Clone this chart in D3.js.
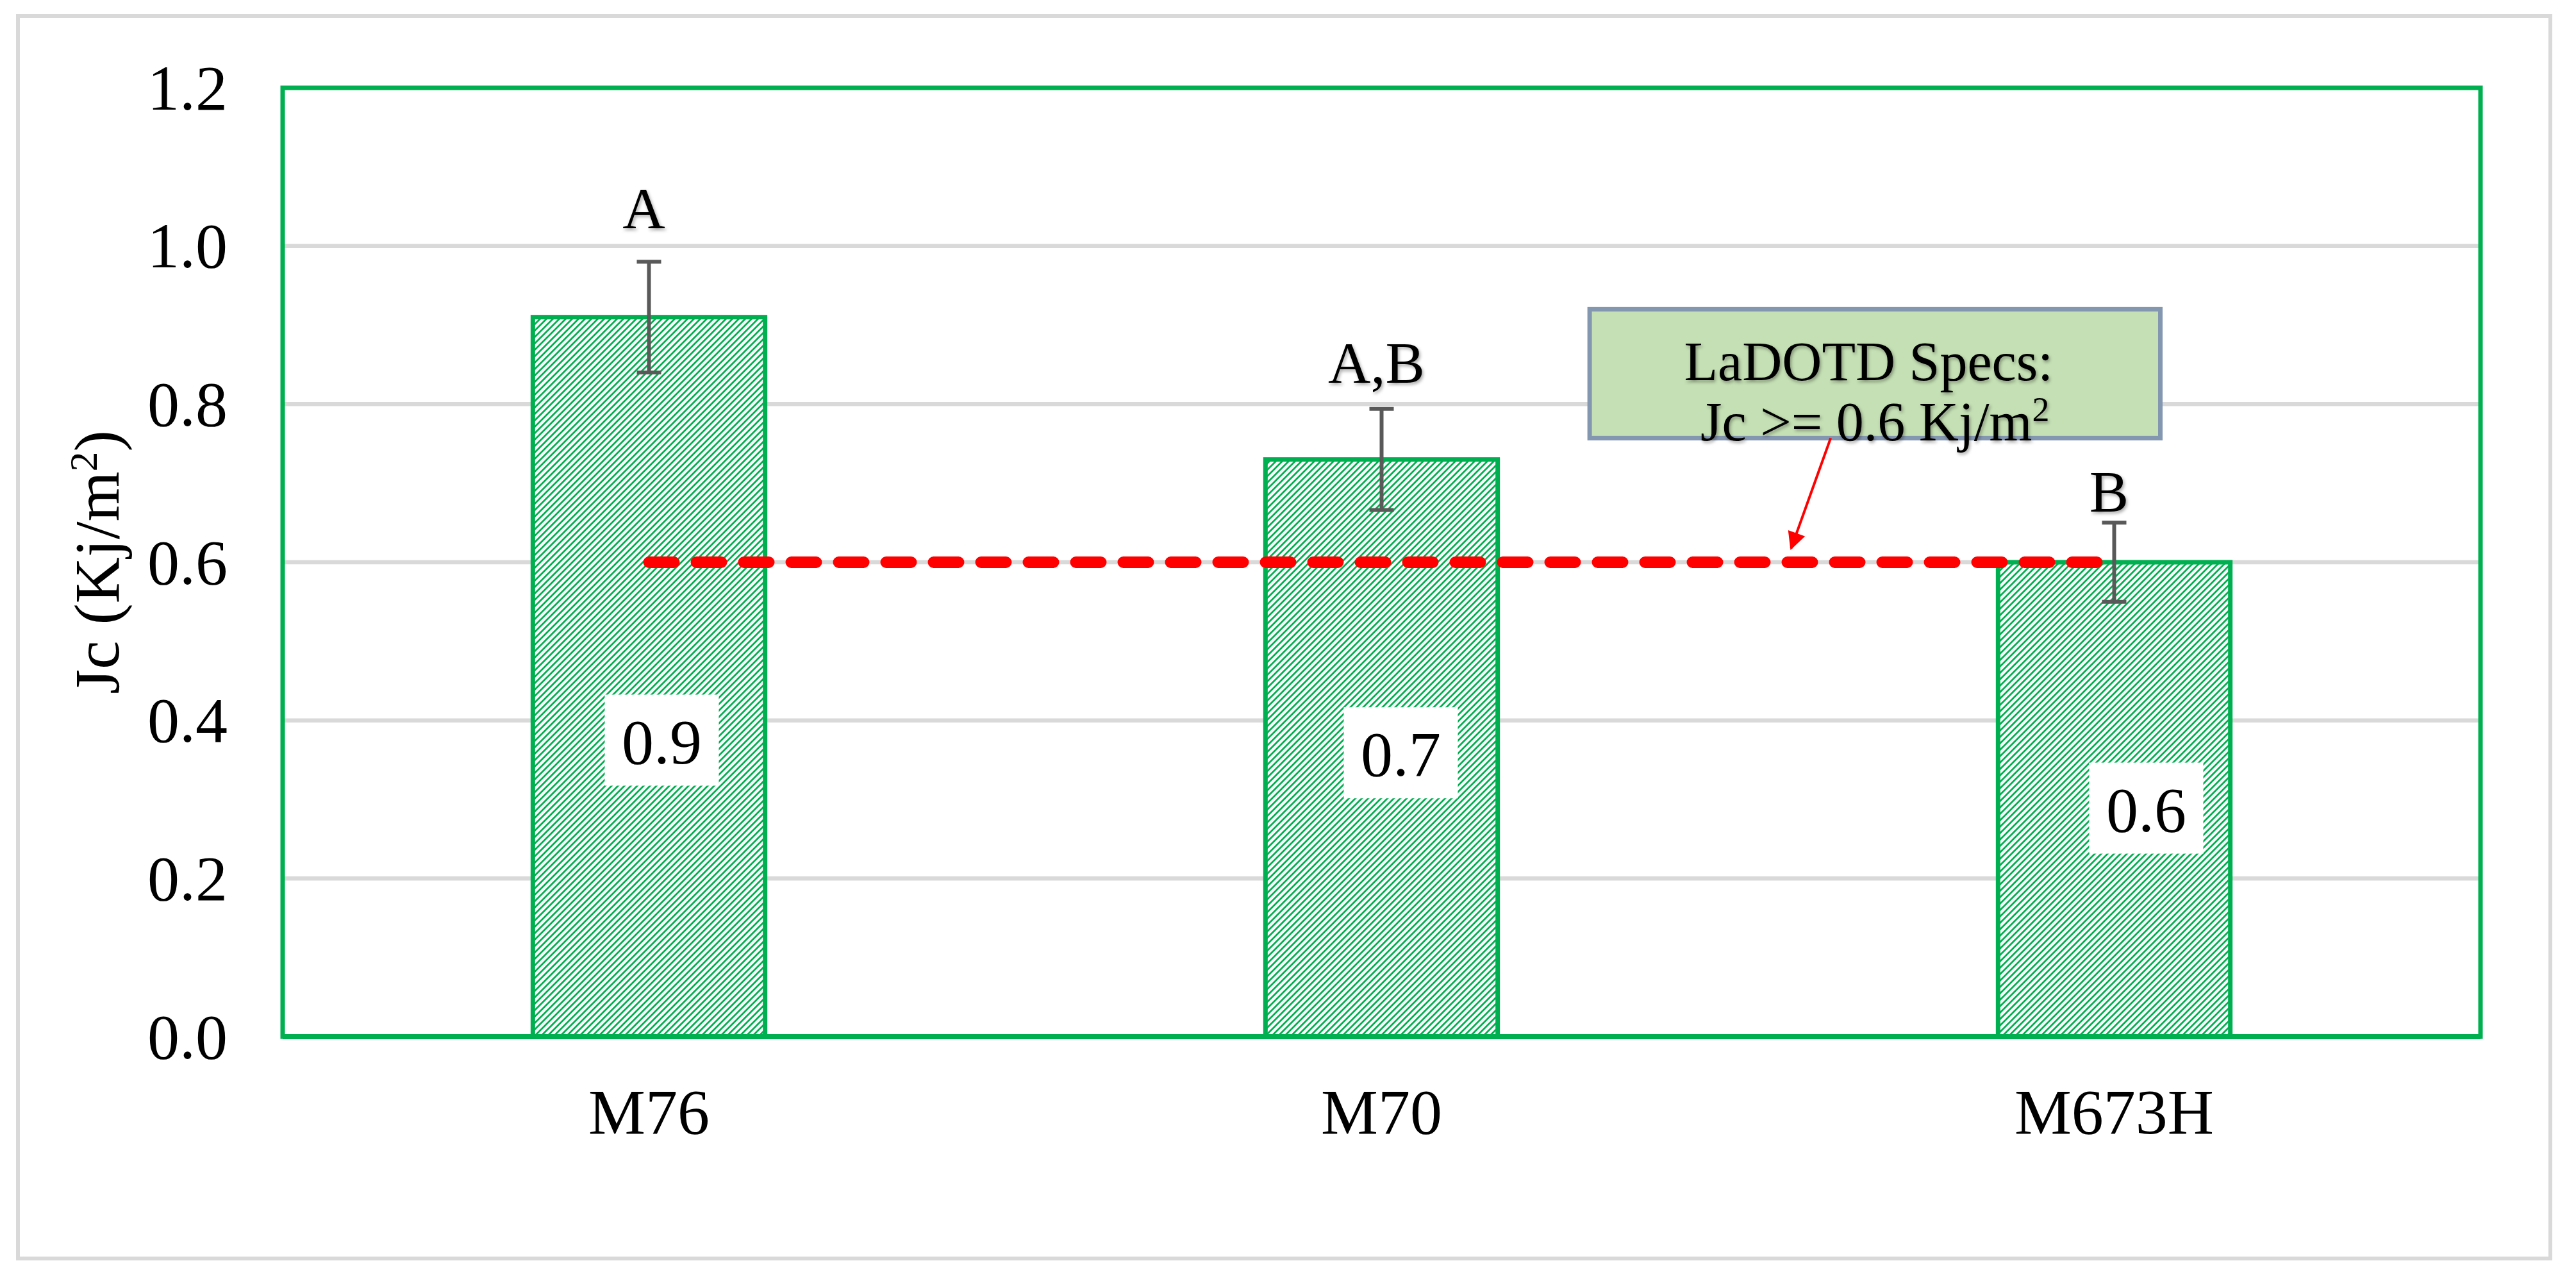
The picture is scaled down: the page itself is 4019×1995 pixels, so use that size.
<!DOCTYPE html>
<html>
<head>
<meta charset="utf-8">
<script src="https://cdn.jsdelivr.net/npm/d3@7"></script>
<style>
  html, body { margin: 0; padding: 0; background: #ffffff; }
  svg { display: block; }
  text { font-family: "Liberation Serif", "Times New Roman", serif; fill: #000; }
</style>
</head>
<body>
<svg id="chart" width="4019" height="1995"></svg>
<script>
// ---------------- data ----------------
const categories   = ["M76", "M70", "M673H"];
const meanValues   = [0.91, 0.73, 0.60];
const errorValues  = [0.07, 0.064, 0.05];
const valueLabels  = ["0.9", "0.7", "0.6"];
const groupLetters = ["A", "A,B", "B"];
const yTickValues  = [0, 0.2, 0.4, 0.6, 0.8, 1.0, 1.2];
const specValue    = 0.6;
const specLines    = ["LaDOTD Specs:", "Jc >= 0.6 Kj/m"];
const specSup      = "2";
const yTitleMain   = "Jc (Kj/m";
const yTitleSup    = "2";
const yTitleEnd    = ")";

// ---------------- layout ----------------
const W = 4019, H = 1995;
const plot = { left: 441, right: 3870, top: 137, bottom: 1617 };
const labelAnchor = [0.375, 0.359, 0.289];   // value-unit centre of the value-label boxes
const labelShift  = [20, 30, 50];             // px shift of value-label boxes
const letterGap   = [52, 41, 17];             // px between error-bar top and letter baseline
const green = "#00b050", grid = "#d9d9d9", red = "#ff0000", errCol = "#595959";

const svg = d3.select("#chart");
svg.append("rect").attr("width", W).attr("height", H).attr("fill", "#fff");

const defs = svg.append("defs");
const pat = defs.append("pattern").attr("id", "hatch")
  .attr("patternUnits", "userSpaceOnUse").attr("width", 10).attr("height", 10);
pat.append("rect").attr("width", 10).attr("height", 10).attr("fill", "#fff");
pat.append("path").attr("d", "M-3,3 L3,-3 M0,10 L10,0 M7,13 L13,7")
  .attr("stroke", green).attr("stroke-width", 2.8);
const sh = defs.append("filter").attr("id", "shadow")
  .attr("x", "-20%").attr("y", "-20%").attr("width", "140%").attr("height", "140%");
sh.append("feDropShadow").attr("dx", 2).attr("dy", 3).attr("stdDeviation", 2.5)
  .attr("flood-color", "#000").attr("flood-opacity", 0.35);
defs.append("marker").attr("id", "arrowHead").attr("viewBox", "0 0 10 10")
  .attr("refX", 9).attr("refY", 5).attr("markerWidth", 8).attr("markerHeight", 7)
  .attr("markerUnits", "strokeWidth").attr("orient", "auto")
  .append("path").attr("d", "M0,0 L10,5 L0,10 Z").attr("fill", red);

// outer chart-area border
svg.append("rect").attr("x", 28).attr("y", 25).attr("width", 3951).attr("height", 1938)
  .attr("fill", "none").attr("stroke", grid).attr("stroke-width", 6);

// ---------------- scales ----------------
const x = d3.scaleBand().domain(categories).range([plot.left, plot.right])
  .paddingInner(0.683).paddingOuter(0.3415);
const y = d3.scaleLinear().domain([0, 1.2]).range([plot.bottom, plot.top]);
const cx = c => x(c) + x.bandwidth() / 2;
const step = x.step();
const xAt = t => cx(categories[0]) + t * step;   // position in category-index units

// gridlines
svg.append("g").selectAll("line").data(yTickValues.filter(v => v > 0 && v < 1.2)).join("line")
  .attr("x1", plot.left).attr("x2", plot.right)
  .attr("y1", d => y(d)).attr("y2", d => y(d))
  .attr("stroke", grid).attr("stroke-width", 6.5);

// y axis labels
const yAxis = svg.append("g").attr("transform", `translate(${plot.left},0)`)
  .call(d3.axisLeft(y).tickValues(yTickValues).tickFormat(d3.format(".1f")).tickSize(0).tickPadding(86));
yAxis.select(".domain").remove();
yAxis.selectAll("text").attr("font-size", 100).attr("dy", "0.33em")
  .style("font-family", "Liberation Serif").attr("fill", "#000");

// x axis labels
const xAxis = svg.append("g").attr("transform", `translate(0,${plot.bottom})`)
  .call(d3.axisBottom(x).tickSize(0).tickPadding(0));
xAxis.select(".domain").remove();
xAxis.selectAll("text").attr("font-size", 100).attr("y", 151).attr("dy", 0)
  .style("font-family", "Liberation Serif").attr("fill", "#000");

// y axis title
const yt = svg.append("text").attr("transform", `translate(185,${(plot.top + plot.bottom) / 2}) rotate(-90)`)
  .attr("text-anchor", "middle").attr("font-size", 100);
yt.append("tspan").text(yTitleMain);
yt.append("tspan").attr("baseline-shift", "super").attr("font-size", 62).text(yTitleSup);
yt.append("tspan").text(yTitleEnd);

// bars
svg.append("g").selectAll("rect").data(categories).join("rect")
  .attr("x", c => x(c)).attr("width", x.bandwidth())
  .attr("y", (c, i) => y(meanValues[i]))
  .attr("height", (c, i) => y(0) - y(meanValues[i]))
  .attr("fill", "url(#hatch)").attr("stroke", green).attr("stroke-width", 7);

// value labels with white boxes
const vl = svg.append("g").selectAll("g").data(categories).join("g")
  .attr("transform", (c, i) => `translate(${cx(c) + labelShift[i]},${y(labelAnchor[i])})`);
vl.append("rect").attr("x", -89).attr("y", -71).attr("width", 178).attr("height", 142).attr("fill", "#fff");
vl.append("text").attr("text-anchor", "middle").attr("font-size", 100).attr("y", 36)
  .text((c, i) => valueLabels[i]);

// error bars
const eb = svg.append("g").attr("stroke", errCol).attr("stroke-width", 6);
categories.forEach((c, i) => {
  const hi = y(meanValues[i] + errorValues[i]), lo = y(meanValues[i] - errorValues[i]);
  eb.append("line").attr("x1", cx(c)).attr("x2", cx(c)).attr("y1", hi).attr("y2", lo);
  eb.append("line").attr("x1", cx(c) - 19).attr("x2", cx(c) + 19).attr("y1", hi).attr("y2", hi);
  eb.append("line").attr("x1", cx(c) - 19).attr("x2", cx(c) + 19).attr("y1", lo).attr("y2", lo);
});

// plot area border
svg.append("rect").attr("x", plot.left).attr("y", plot.top)
  .attr("width", plot.right - plot.left).attr("height", plot.bottom - plot.top)
  .attr("fill", "none").attr("stroke", green).attr("stroke-width", 7);
svg.append("line").attr("x1", plot.left).attr("x2", plot.right)
  .attr("y1", y(0)).attr("y2", y(0)).attr("stroke", green).attr("stroke-width", 8);

// spec dashed line
svg.append("line")
  .attr("x1", cx(categories[0])).attr("x2", cx(categories[categories.length - 1]))
  .attr("y1", y(specValue)).attr("y2", y(specValue))
  .attr("stroke", red).attr("stroke-width", 18)
  .attr("stroke-dasharray", "39,35").attr("stroke-linecap", "round");

// group letters
svg.append("g").selectAll("text").data(categories).join("text")
  .attr("x", c => cx(c) - 8)
  .attr("y", (c, i) => y(meanValues[i] + errorValues[i]) - letterGap[i])
  .attr("text-anchor", "middle").attr("font-size", 92).attr("filter", "url(#shadow)")
  .text((c, i) => groupLetters[i]);

// spec text box
const bx0 = xAt(1.284), bx1 = xAt(2.063), by0 = y(0.920), by1 = y(0.757);
svg.append("rect").attr("x", bx0).attr("y", by0).attr("width", bx1 - bx0).attr("height", by1 - by0)
  .attr("fill", "#c5e0b4").attr("stroke", "#8497b0").attr("stroke-width", 7);
const bcx = (bx0 + bx1) / 2;
svg.append("text").attr("x", bcx - 10).attr("y", by0 + 111).attr("text-anchor", "middle")
  .attr("font-size", 86).attr("filter", "url(#shadow)").text(specLines[0]);
const l2 = svg.append("text").attr("x", bcx).attr("y", by0 + 205).attr("text-anchor", "middle")
  .attr("font-size", 86).attr("filter", "url(#shadow)");
l2.append("tspan").text(specLines[1]);
l2.append("tspan").attr("baseline-shift", "super").attr("font-size", 54).text(specSup);

// arrow
svg.append("line")
  .attr("x1", xAt(1.613)).attr("y1", y(0.757))
  .attr("x2", xAt(1.559)).attr("y2", y(0.6175))
  .attr("stroke", red).attr("stroke-width", 4).attr("marker-end", "url(#arrowHead)");
</script>
</body>
</html>
